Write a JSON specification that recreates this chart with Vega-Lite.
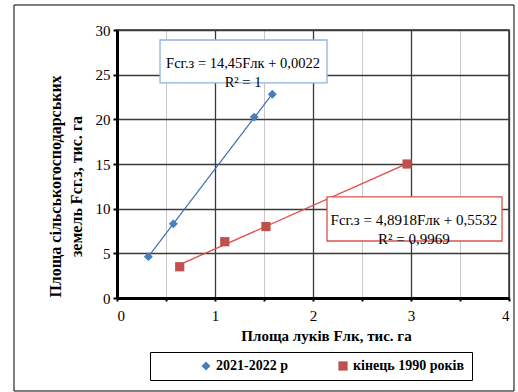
{
  "$schema": "https://vega.github.io/schema/vega-lite/v6.json",
  "autosize": "none",
  "width": 392,
  "height": 268,
  "padding": {"left": 117, "top": 30, "right": 9, "bottom": 94},
  "background": "white",
  "config": {
    "font": "Liberation Serif, Times New Roman, serif",
    "view": {"stroke": "#333333", "strokeWidth": 1.5},
    "text": {"font": "Liberation Serif, Times New Roman, serif"},
    "axis": {
      "labelFont": "Liberation Serif, Times New Roman, serif",
      "labelFontSize": 15,
      "labelColor": "black",
      "titleFont": "Liberation Serif, Times New Roman, serif",
      "titleColor": "black",
      "titleFontWeight": "bold",
      "domainColor": "black",
      "domainWidth": 3,
      "tickColor": "black",
      "tickWidth": 2,
      "tickSize": 4
    }
  },
  "data": {
    "values": [
      {"series": "2021-2022 р", "x": 0.32, "y": 4.63},
      {"series": "2021-2022 р", "x": 0.575, "y": 8.3},
      {"series": "2021-2022 р", "x": 1.40, "y": 20.25},
      {"series": "2021-2022 р", "x": 1.585, "y": 22.8},
      {"series": "кінець 1990 років", "x": 0.64, "y": 3.5},
      {"series": "кінець 1990 років", "x": 1.10, "y": 6.3},
      {"series": "кінець 1990 років", "x": 1.52, "y": 8.0},
      {"series": "кінець 1990 років", "x": 2.96, "y": 15.0}
    ]
  },
  "layer": [
    {
      "data": {"values": [{}]},
      "mark": {"type": "rect", "fill": null, "fillOpacity": 0, "stroke": "black", "strokeWidth": 1, "clip": false},
      "encoding": {
        "x": {"datum": -1.051, "type": "quantitative", "scale": {"domain": [0, 4], "nice": false, "zero": false},
          "axis": {
            "values": [0, 0.5, 1, 1.5, 2, 2.5, 3, 3.5, 4],
            "labelExpr": "datum.value % 1 === 0 ? format(datum.value, 'd') : ''",
            "gridColor": {"condition": {"test": "datum.value % 1 !== 0", "value": "#c8c8c8"}, "value": "#3a3a3a"},
            "gridWidth": {"condition": {"test": "datum.value % 1 !== 0", "value": 1}, "value": 1.3},
            "tickSize": 3,
            "grid": true,
            "labelPadding": 7,
            "labelBaseline": "top",
            "title": "Площа луків Fлк, тис. га",
            "titleFontSize": 15,
            "titleX": 209,
            "titleY": 42,
            "titleBaseline": "alphabetic"
          }
        },
        "x2": {"datum": 4.051},
        "y": {"datum": 32.8, "type": "quantitative", "scale": {"domain": [0, 30], "nice": false, "zero": false},
          "axis": {
            "values": [0, 5, 10, 15, 20, 25, 30],
            "format": "d",
            "grid": true,
            "gridColor": "#3a3a3a",
            "gridWidth": 1.3,
            "labelPadding": 3,
            "title": ["Площа  сільськогосподарських", "земель Fсг.з, тис. га"],
            "titleFontSize": 16,
            "titleLineHeight": 21,
            "titleAngle": -90,
            "titleAlign": "center",
            "titleBaseline": "bottom",
            "titleX": -54,
            "titleY": 156
          }
        },
        "y2": {"datum": -10.41}
      }
    },
    {
      "transform": [
        {"filter": "datum.series === '2021-2022 р'"},
        {"regression": "y", "on": "x"}
      ],
      "mark": {"type": "line", "color": "#3d6fb0", "strokeWidth": 1.2},
      "encoding": {
        "x": {"field": "x", "type": "quantitative"},
        "y": {"field": "y", "type": "quantitative"}
      }
    },
    {
      "transform": [
        {"filter": "datum.series === 'кінець 1990 років'"},
        {"regression": "y", "on": "x"}
      ],
      "mark": {"type": "line", "color": "#e84545", "strokeWidth": 1.3},
      "encoding": {
        "x": {"field": "x", "type": "quantitative"},
        "y": {"field": "y", "type": "quantitative"}
      }
    },
    {
      "mark": {"type": "point", "filled": true, "opacity": 1},
      "encoding": {
        "x": {"field": "x", "type": "quantitative"},
        "y": {"field": "y", "type": "quantitative"},
        "size": {"field": "series", "type": "nominal", "scale": {"domain": ["2021-2022 р", "кінець 1990 років"], "range": [80, 85]}, "legend": null},
        "color": {
          "field": "series", "type": "nominal",
          "scale": {"domain": ["2021-2022 р", "кінець 1990 років"], "range": ["#4a7ebb", "#c0504d"]},
          "legend": {
            "orient": "none", "legendX": 33, "legendY": 322,
            "direction": "horizontal", "columns": 2, "gridAlign": "all",
            "columnPadding": 8,
            "title": " ", "titleOrient": "left", "titlePadding": 42,
            "padding": 7, "strokeColor": "black",
            "symbolSize": 55, "labelOffset": 3,
            "labelFont": "Liberation Serif, Times New Roman, serif", "labelFontSize": 14, "labelFontWeight": "bold", "labelColor": "black"
          }
        },
        "shape": {
          "field": "series", "type": "nominal",
          "scale": {"domain": ["2021-2022 р", "кінець 1990 років"], "range": ["diamond", "square"]}
        }
      }
    },
    {
      "data": {"values": [{}]},
      "mark": {"type": "rect", "fill": "white", "stroke": "#8db3e2", "strokeWidth": 1.3},
      "encoding": {
        "x": {"datum": 0.439, "type": "quantitative"},
        "x2": {"datum": 2.143},
        "y": {"datum": 28.88, "type": "quantitative"},
        "y2": {"datum": 24.07}
      }
    },
    {
      "data": {"values": [{}]},
      "mark": {"type": "text", "font": "Liberation Serif, Times New Roman, serif", "fontSize": 14.5, "lineHeight": 19, "align": "center", "baseline": "middle", "color": "black",
        "text": ["Fсг.з = 14,45Fлк + 0,0022", "R² = 1"]},
      "encoding": {
        "x": {"datum": 1.286, "type": "quantitative"},
        "y": {"datum": 26.25, "type": "quantitative"}
      }
    },
    {
      "data": {"values": [{}]},
      "mark": {"type": "rect", "fill": "white", "stroke": "#d9534f", "strokeWidth": 1.3},
      "encoding": {
        "x": {"datum": 2.143, "type": "quantitative"},
        "x2": {"datum": 3.929},
        "y": {"datum": 11.31, "type": "quantitative"},
        "y2": {"datum": 6.38}
      }
    },
    {
      "data": {"values": [{}]},
      "mark": {"type": "text", "font": "Liberation Serif, Times New Roman, serif", "fontSize": 15, "lineHeight": 19, "align": "center", "baseline": "middle", "color": "black",
        "text": ["Fсг.з = 4,8918Fлк + 0,5532", "R² = 0,9969"]},
      "encoding": {
        "x": {"datum": 3.03, "type": "quantitative"},
        "y": {"datum": 8.68, "type": "quantitative"}
      }
    }
  ]
}
